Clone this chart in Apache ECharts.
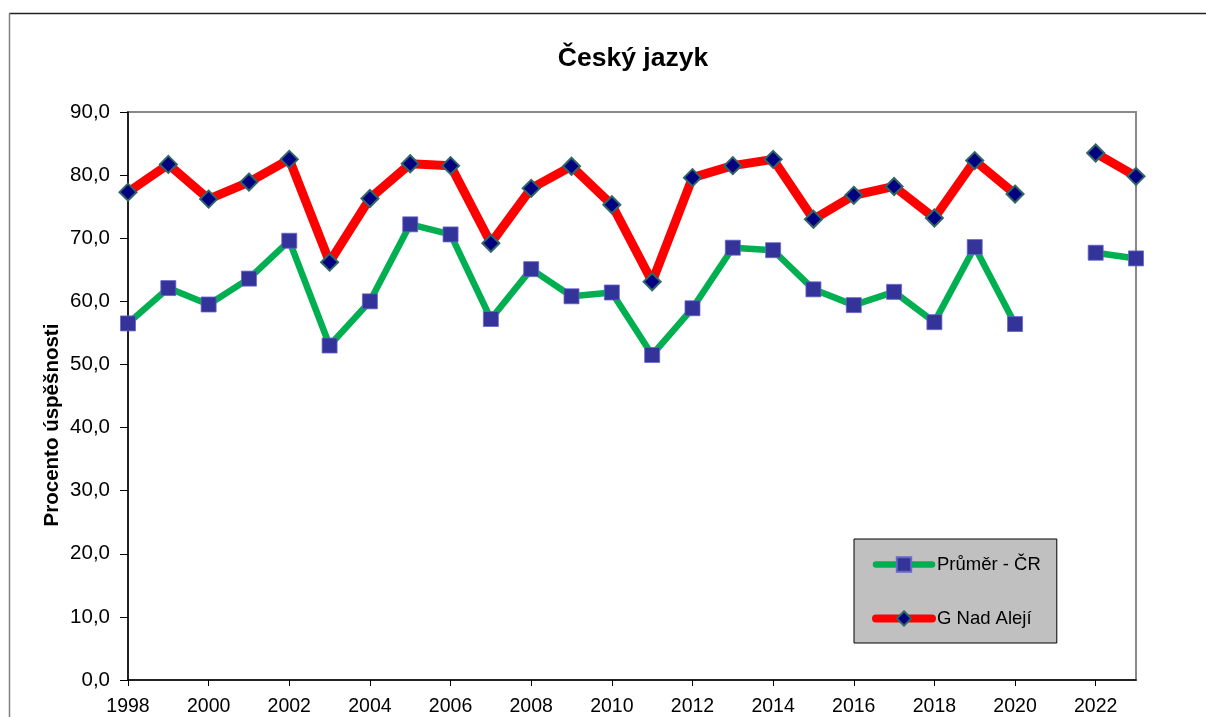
<!DOCTYPE html>
<html>
<head>
<meta charset="utf-8">
<script src="https://cdn.jsdelivr.net/npm/echarts@6/dist/echarts.min.js"></script>
<style>
	html, body { margin: 0; padding: 0; background: #fff; }
	#chart { width: 1206px; height: 717px; }
</style>
</head>
<body>
<div id="chart"></div>
<script>
var years = ['1998', '1999', '2000', '2001', '2002', '2003', '2004', '2005', '2006', '2007',
	'2008', '2009', '2010', '2011', '2012', '2013', '2014', '2015', '2016', '2017',
	'2018', '2019', '2020', '2021', '2022', '2023'];

// Průměr - ČR
var prumerCR = [56.5, 62.1, 59.5, 63.6, 69.6, 53.0, 60.0, 72.2, 70.6, 57.2,
	65.1, 60.8, 61.4, 51.5, 58.9, 68.5, 68.1, 61.9, 59.4, 61.5,
	56.7, 68.6, 56.4, null, 67.7, 66.8];

// G Nad Alejí
var gNadAleji = [77.3, 81.7, 76.2, 78.9, 82.5, 66.2, 76.3, 81.8, 81.5, 69.2,
	77.9, 81.4, 75.3, 63.1, 79.6, 81.5, 82.5, 73.0, 76.8, 78.2,
	73.2, 82.3, 77.0, null, 83.5, 79.8];

var chartTitle = 'Český jazyk';
var yName = 'Procento úspěšnosti';

var font = 'Arial, "Liberation Sans", sans-serif';

var option = {
	animation : false,
	backgroundColor : '#ffffff',
	title : {
		text : chartTitle,
		left : 628,
		top : 40,
		textAlign : 'center',
		textStyle : {
			fontFamily : font,
			fontSize : 26.5,
			fontWeight : 'bold',
			color : '#000'
		}
	},
	graphic : [ {
		type : 'line',
		shape : { x1 : 9, y1 : 13.5, x2 : 1206, y2 : 13.5 },
		style : { stroke : '#222', lineWidth : 1.5 }
	}, {
		type : 'line',
		shape : { x1 : 9.5, y1 : 13, x2 : 9.5, y2 : 717 },
		style : { stroke : '#808080', lineWidth : 1.5 }
	}, {
		type : 'text',
		x : 52,
		y : 425,
		rotation : Math.PI / 2,
		style : {
			text : yName,
			fontFamily : font,
			fontSize : 20.5,
			fontWeight : 'bold',
			fill : '#000',
			align : 'center',
			verticalAlign : 'middle'
		}
	} ],
	legend : {
		orient : 'vertical',
		left : 854,
		top : 539,
		padding : [ 16, 16, 15, 18 ],
		itemGap : 35,
		itemWidth : 56,
		itemHeight : 18,
		backgroundColor : '#c0c0c0',
		borderColor : '#000',
		borderWidth : 1,
		textStyle : {
			fontFamily : font,
			fontSize : 18.5,
			lineHeight : 18,
			color : '#000'
		},
		data : [ {
			name : 'Průměr - ČR',
			lineStyle : { width : 6.5, cap : 'round' }
		}, {
			name : 'G Nad Alejí',
			lineStyle : { width : 8, cap : 'round' }
		} ]
	},
	grid : {
		left : 128,
		top : 112,
		width : 1008,
		height : 571,
		show : true,
		borderColor : '#888',
		borderWidth : 2,
		backgroundColor : 'transparent'
	},
	xAxis : {
		type : 'category',
		data : years,
		boundaryGap : false,
		axisLine : { lineStyle : { color : '#000', width : 1.5 } },
		axisTick : { interval : 1, length : 6, lineStyle : { color : '#000' } },
		axisLabel : {
			interval : 1,
			margin : 17,
			fontFamily : font,
			fontSize : 19.5,
			color : '#000'
		},
		splitLine : { show : false }
	},
	yAxis : {
		type : 'value',
		min : 0,
		max : 90,
		interval : 10,
		axisLine : { show : true, lineStyle : { color : '#000', width : 1.5 } },
		axisTick : { show : true, length : 8, lineStyle : { color : '#000' } },
		axisLabel : {
			margin : 18,
			fontFamily : font,
			fontSize : 20.5,
			color : '#000',
			formatter : function(v) {
				return v.toFixed(1).replace('.', ',');
			}
		},
		splitLine : { show : false }
	},
	series : [ {
		name : 'Průměr - ČR',
		type : 'line',
		data : prumerCR,
		symbol : 'rect',
		symbolSize : 15,
		itemStyle : { color : '#333399', borderColor : '#6666cc', borderWidth : 0.8 },
		lineStyle : { color : '#00b050', width : 6.5 },
		z : 2
	}, {
		name : 'G Nad Alejí',
		type : 'line',
		data : gNadAleji,
		symbol : 'diamond',
		symbolSize : 17,
		itemStyle : { color : '#000080', borderColor : '#336666', borderWidth : 2 },
		lineStyle : { color : '#ff0000', width : 9 },
		z : 3
	} ]
};

var myChart = echarts.init(document.getElementById('chart'));
myChart.setOption(option);
</script>
</body>
</html>
